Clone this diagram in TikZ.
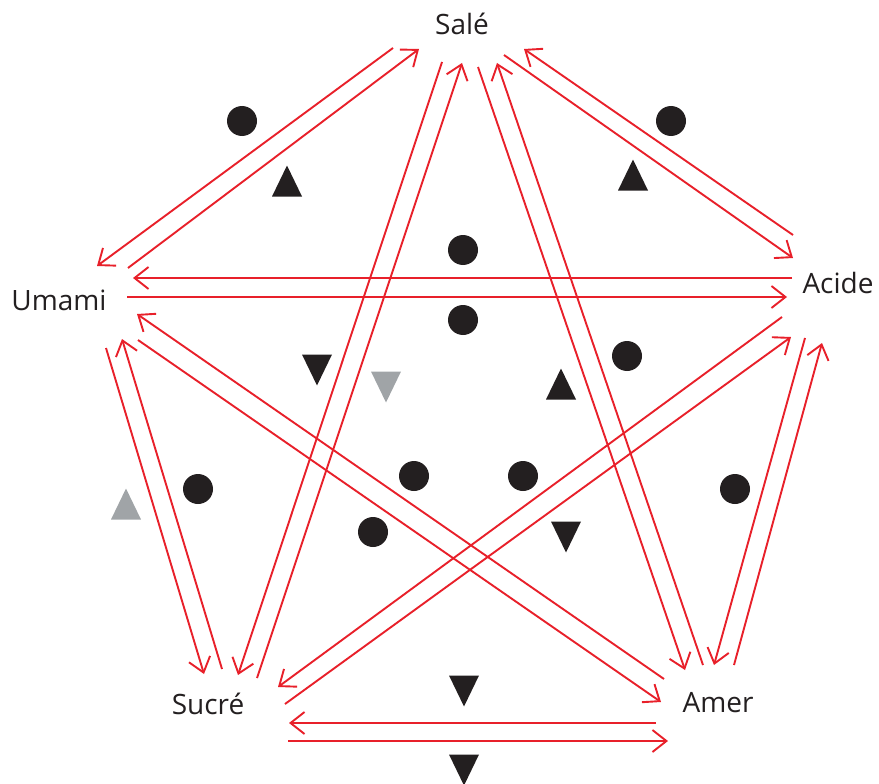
\documentclass[tikz,border=0pt]{standalone}
\usepackage{fontspec}
\setmainfont{Open Sans}
\usetikzlibrary{arrows.meta}
\definecolor{arrred}{HTML}{E8202A}
\definecolor{ink}{HTML}{231F20}
\definecolor{graymk}{HTML}{A0A4A7}
\begin{document}
\begin{tikzpicture}[x=1pt,y=-1pt,
  conn/.style={draw=arrred,line width=1.9pt,-{Straight Barb[length=14pt,width=22pt,line width=1.9pt]}},
  lab/.style={anchor=base,text=ink,font=\fontsize{28}{30}\selectfont,inner sep=0pt},
  dot/.style={fill=ink,draw=none},
  upmk/.style={fill=#1,draw=none},
]
\useasboundingbox (0,0) rectangle (879,784);
% labels
\node[lab] (sale) at (462,35) {Salé};
\node[lab] (umami) at (59,310) {Umami};
\node[lab] (acide) at (838,293) {Acide};
\node[lab] (sucre) at (208,714) {Sucré};
\node[lab] (amer) at (718,712) {Amer};
% endpoints
\coordinate (p1a) at (128,268); \coordinate (p1b) at (419,49);
\coordinate (p1c) at (393,48);  \coordinate (p1d) at (97,266);
\coordinate (p2a) at (442,62);  \coordinate (p2b) at (238,675);
\coordinate (p2c) at (257,678); \coordinate (p2d) at (462,63);
\coordinate (p3a) at (478,67);  \coordinate (p3b) at (685,670);
\coordinate (p3c) at (703,665); \coordinate (p3d) at (497,63);
\coordinate (p4a) at (805,338); \coordinate (p4b) at (714,665);
\coordinate (p4c) at (734,665); \coordinate (p4d) at (822,343);
\coordinate (p5a) at (504,55);  \coordinate (p5b) at (793,258);
\coordinate (p5c) at (793,235); \coordinate (p5d) at (524,49);
\coordinate (p6a) at (792,278); \coordinate (p6b) at (133,278);
\coordinate (p6c) at (127,297); \coordinate (p6d) at (787,297);
\coordinate (p7a) at (782,317); \coordinate (p7b) at (278,687);
\coordinate (p7c) at (285,704); \coordinate (p7d) at (791,337);
\coordinate (p8a) at (664,679); \coordinate (p8b) at (137,314);
\coordinate (p8c) at (138,340); \coordinate (p8d) at (661,702);
\coordinate (p9a) at (106,348); \coordinate (p9b) at (204,674);
\coordinate (p9c) at (222,669); \coordinate (p9d) at (122,339);
\coordinate (p10a) at (656,723); \coordinate (p10b) at (289,723);
\coordinate (p10c) at (288,741); \coordinate (p10d) at (668,741);
% connectors
\foreach \i in {1,...,10}{
  \draw[conn] (p\i a) -- (p\i b);
  \draw[conn] (p\i c) -- (p\i d);
}
% circles
\foreach \x/\y in {242/121,671/121,463/250,463/320,627/356,198/489,414/476,523/476,373/532,735/489}
  \fill[dot] (\x,\y) circle (15);
% up triangles
\foreach \x/\y/\c in {287/181/ink,633/175/ink,561/384/ink,126/504/graymk}
  \fill[upmk=\c] (\x-15,\y+15.5) -- (\x+15,\y+15.5) -- (\x,\y-15.5) -- cycle;
% down triangles
\foreach \x/\y/\c in {317/370/ink,386/387/graymk,566/537/ink,464/691/ink,464/770/ink}
  \fill[upmk=\c] (\x-15,\y-15.5) -- (\x+15,\y-15.5) -- (\x,\y+15.5) -- cycle;
\end{tikzpicture}
\end{document}
